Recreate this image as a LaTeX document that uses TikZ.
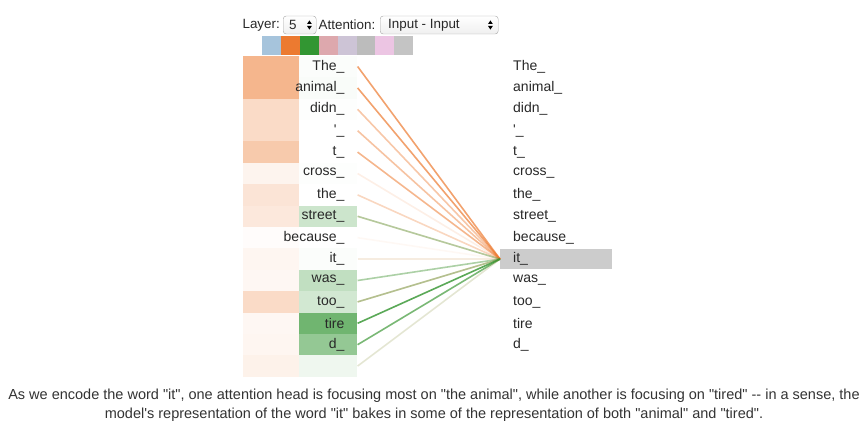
\documentclass[tikz,border=0pt]{standalone}
\usepackage{fontspec}
\setmainfont{Liberation Sans}
\usetikzlibrary{positioning}

\definecolor{headorange}{RGB}{236,122,48}
\definecolor{headgreen}{RGB}{50,150,50}
\definecolor{headblue}{RGB}{166,196,220}
\definecolor{headrose}{RGB}{221,168,173}
\definecolor{headlilac}{RGB}{205,196,214}
\definecolor{headgrey}{RGB}{188,188,188}
\definecolor{headpink}{RGB}{236,197,227}
\definecolor{headsilver}{RGB}{196,196,196}
\definecolor{inktext}{RGB}{40,40,40}

\newcommand{\dq}[1]{\textquotedbl#1\textquotedbl}

\tikzset{
  updown/.pic={
    \fill (-2.4,-1) -- (2.4,-1) -- (0,-4.6) -- cycle;
    \fill (-2.4,1) -- (2.4,1) -- (0,4.6) -- cycle;
  }
}

\begin{document}
\begin{tikzpicture}[x=1pt,y=-1pt,
  cell/.style={minimum width=56pt,minimum height=21.4pt,inner sep=0pt},
  gcell/.style={minimum width=58pt,minimum height=21.4pt,inner sep=0pt},
  word/.style={font=\fontsize{14}{16}\selectfont,text=inktext,inner sep=0pt},
  rword/.style={word,text width=86pt,inner xsep=13pt,inner ysep=0pt,align=left,minimum height=20pt},
  swatch/.style={minimum width=18.9pt,minimum height=18.5pt,inner sep=0pt},
  menu/.style={draw=black!35,rounded corners=3pt,top color=white,bottom color=black!6,
    minimum height=18pt,inner sep=0pt,font=\fontsize{13}{15}\selectfont},
  head/.style={font=\fontsize{13.4}{15}\selectfont,text=inktext,inner sep=0pt},
  attn/.style={line width=1.6pt}
]
\useasboundingbox (0,0) rectangle (866,433);

% controls
\node[head,anchor=east] (layer) at (280,25) {Layer:};
\node[menu,minimum width=33pt,anchor=west] (layersel) at (283,25) {};
\node[head,anchor=west] (layerval) at (289,25) {5};
\path (layersel.east) ++(-7,0) pic {updown};
\node[head,anchor=west] (attention) at (318.5,25) {Attention:};
\node[menu,minimum width=118pt,anchor=west] (attnsel) at (380,25) {};
\node[head,anchor=west] (attnval) at (388,25) {Input - Input};
\path (attnsel.east) ++(-8,0) pic {updown};

% one swatch per head
\foreach \c [count=\k] in {headblue,headorange,headgreen,headrose,headlilac,headgrey,headpink,headsilver}
  \node[swatch,fill=\c] (S\k) at ({271.5+(\k-1)*18.9},45.5) {};

% right column, query word highlighted
\foreach \i/\tok/\bg in {1/The\_/white,2/animal\_/white,3/didn\_/white,4/\textquotesingle\_/white,
    5/t\_/white,6/cross\_/white,7/the\_/white,8/street\_/white,9/because\_/white,
    10/it\_/black!20,11/was\_/white,12/too\_/white,13/tire/white,14/d\_/white}
  \node[rword,fill=\bg,anchor=west] (R\i) at (500,{66.5+(\i-1)*21.4}) {\tok};

% left column with head weights and attention lines
\foreach \i/\tok/\oc/\gc/\ol/\gl in {
    1/The\_/55/2/.7/0,
    2/animal\_/55/3/.7/0,
    3/didn\_/27/1/.42/0,
    4/\textquotesingle\_/27/0/.45/0,
    5/t\_/40/0/.55/0,
    6/cross\_/8/1/.12/0,
    7/the\_/20/0/.3/0,
    8/street\_/17/25/.2/.35,
    9/because\_/2/0/.05/0,
    10/it\_/7/2/.12/.03,
    11/was\_/6/30/.05/.4,
    12/too\_/27/22/.3/.35,
    13/tire/6/70/.05/.8,
    14/d\_/7/52/.05/.65,
    15/{}/10/8/.1/.12}{
  \node[cell,fill=headorange!\oc!white] (O\i) at (271,{66.5+(\i-1)*21.4}) {};
  \node[gcell,fill=headgreen!\gc!white,right=0pt of O\i] (L\i) {};
  \node[word,anchor=east] (T\i) at ([xshift=-13pt]L\i.east) {\tok};
  \draw[attn,headorange,opacity=\ol] (L\i.east) -- (R10.west);
  \draw[attn,headgreen,opacity=\gl] (L\i.east) -- (R10.west);
}

% caption
\node[font=\fontsize{14.5}{19.5}\selectfont,text=black!80,align=center,inner sep=0pt] (caption) at (434,405)
  {As we encode the word \dq{it}, one attention head is focusing most on \dq{the animal}, while another is focusing on \dq{tired} -{}- in a sense, the\\
   model\textquotesingle s representation of the word \dq{it} bakes in some of the representation of both \dq{animal} and \dq{tired}.};
\end{tikzpicture}
\end{document}
